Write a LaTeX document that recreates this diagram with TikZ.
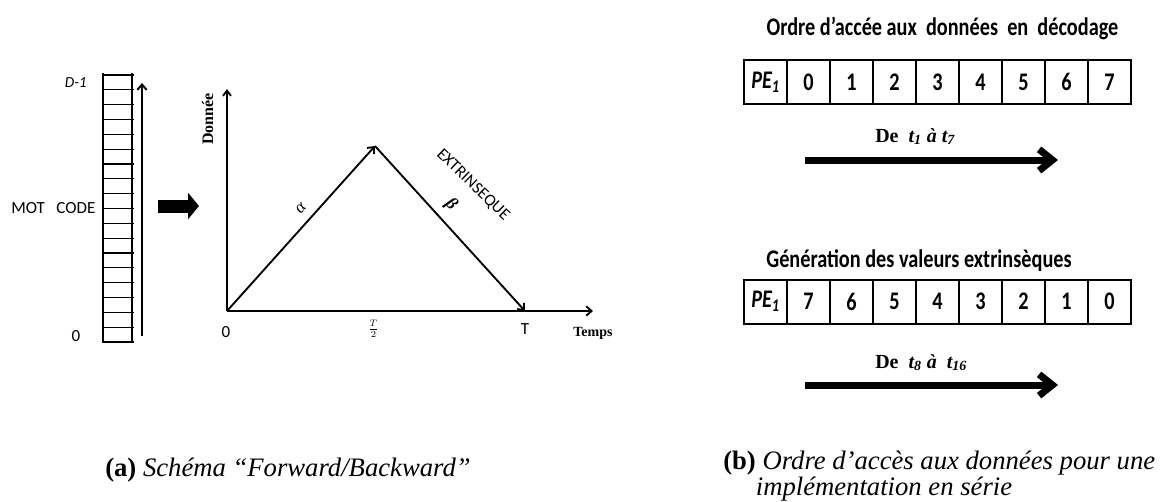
\documentclass[tikz,border=0pt]{standalone}
\usepackage{fontspec}
\usepackage{graphicx}
\setmainfont{Liberation Serif}
\newfontfamily\calib{Carlito}
\usetikzlibrary{arrows.meta}
\newcommand{\sq}[1]{\scalebox{0.8}[1]{#1}}
\begin{document}
\begin{tikzpicture}[x=0.75pt,y=-0.75pt,
  ladder/.style={line width=0.9pt},
  gline/.style={line width=1.4pt},
  lab/.style={inner sep=0pt, font=\calib\fontsize{12.75}{15}\selectfont},
  cell/.style={draw, line width=1.5pt, minimum width=32.25pt, minimum height=33pt, inner sep=0pt, font=\calib\bfseries\fontsize{19}{22}\selectfont},
  ttl/.style={inner sep=0pt, anchor=base, font=\calib\bfseries\fontsize{19}{22}\selectfont},
  detxt/.style={inner sep=0pt, anchor=base west, font=\fontsize{15}{18}\selectfont\bfseries},
  bigarrow/.style={line width=5.25pt, -{Straight Barb[length=10pt,width=16pt]}},
  smallarrow/.style={-{Straight Barb[length=4pt,width=7pt]}},
  captxt/.style={inner sep=0pt, font=\fontsize{20}{23}\selectfont}
]
\useasboundingbox (0,0) rectangle (1160,501);

% ---- left: code word ladder
\foreach \i in {0,...,18} \draw[ladder] (103,{75+\i*14.833}) -- (134,{75+\i*14.833});
\draw[ladder] (103,73) -- (103,343) (132,73) -- (132,343);
\node[lab, anchor=base east, font=\calib\itshape\fontsize{11.5}{13}\selectfont] (dm1) at (87,87) {D-1};
\node[lab, anchor=base west] (mot) at (11,213) {MOT\ \ \ CODE};
\node[lab, anchor=base] (zeroA) at (76,341) {0};
\coordinate (va0) at (142,336);
\coordinate (va1) at (142,83);
\draw[line width=1.5pt, smallarrow] (va0) -- (va1);

% ---- block arrow
\coordinate (ba0) at (158,206);
\coordinate (ba1) at (199,206);
\draw[line width=9.75pt, -{Triangle[length=8.25pt,width=19.5pt]}] (ba0) -- (ba1);

% ---- graph
\coordinate (O) at (227,311);
\coordinate (Ytop) at (227,89);
\coordinate (Xend) at (593,311);
\coordinate (P) at (375,146);
\coordinate (Tp) at (525,311);
\draw[gline, -{Straight Barb[length=4pt,width=6pt]}] (O) -- (Ytop);
\draw[gline, smallarrow] (O) -- (Xend);
\draw[gline, smallarrow] (O) -- (P);
\draw[gline, smallarrow] (P) -- (Tp);
\node[inner sep=0pt, rotate=90, anchor=base, font=\bfseries\fontsize{12}{14}\selectfont] (donnee) at (213,119) {Donnée};
\node[inner sep=0pt, anchor=base, font=\bfseries\fontsize{10.5}{12}\selectfont] (temps) at (593,336.5) {Temps};
\node[lab, anchor=base] (zeroB) at (226,337) {0};
\node[lab, anchor=base] (Tlab) at (525,334) {T};
\node[inner sep=0pt] (half) at (373.5,329) {\fontsize{10.5}{12}\selectfont$\frac{T}{2}$};
\node[inner sep=0pt, rotate=48, font=\itshape\fontsize{13}{15}\selectfont] (alpha) at (301,208) {α};
\node[inner sep=0pt, rotate=-45, font=\bfseries\itshape\fontsize{13}{15}\selectfont] (beta) at (451,205) {β};
\node[inner sep=0pt, rotate=-44, font=\calib\fontsize{12.5}{14}\selectfont] (ext) at (473,185) {EXTRINSEQUE};

% ---- right: tables
\node[ttl] (t1) at (942.5,35) {\sq{Ordre d’accée aux\ \ données\ \ en\ \ décodage}};
\node[cell] (a0) at (765.5,82) {\sq{\itshape PE\textsubscript{1}}};
\foreach \v [count=\k] in {0,1,2,3,4,5,6,7}
  \node[cell] (a\k) at ({765.5+43*\k},82) {\sq{\v}};
\node[detxt] (de1) at (875,142) {De\ \ \textit{t\textsubscript{1}} \textit{à} \textit{t\textsubscript{7}}};
\coordinate (r1s) at (805,160);
\coordinate (r1e) at (1058,160);
\draw[bigarrow] (r1s) -- (r1e);

\node[ttl] (t2) at (919,267) {\sq{Génération des valeurs extrinsèques}};
\node[cell] (b0) at (765.5,301.5) {\sq{\itshape PE\textsubscript{1}}};
\foreach \v [count=\k] in {7,6,5,4,3,2,1,0}
  \node[cell] (b\k) at ({765.5+43*\k},301.5) {\sq{\v}};
\node[detxt] (de2) at (875,368) {De\ \ \textit{t\textsubscript{8}} \textit{à}\ \ \textit{t\textsubscript{16}}};
\coordinate (r2s) at (805,385);
\coordinate (r2e) at (1058,385);
\draw[bigarrow] (r2s) -- (r2e);

% ---- captions
\node[captxt, anchor=base west] (capa) at (105,476) {\textbf{(a)} \textit{Schéma “Forward/Backward”}};
\node[captxt, anchor=base west] (capb1) at (723,469) {\textbf{(b)} \textit{Ordre d’accès aux données pour une}};
\node[captxt, anchor=base] (capb2) at (884,495) {\textit{implémentation en série}};
\end{tikzpicture}
\end{document}
